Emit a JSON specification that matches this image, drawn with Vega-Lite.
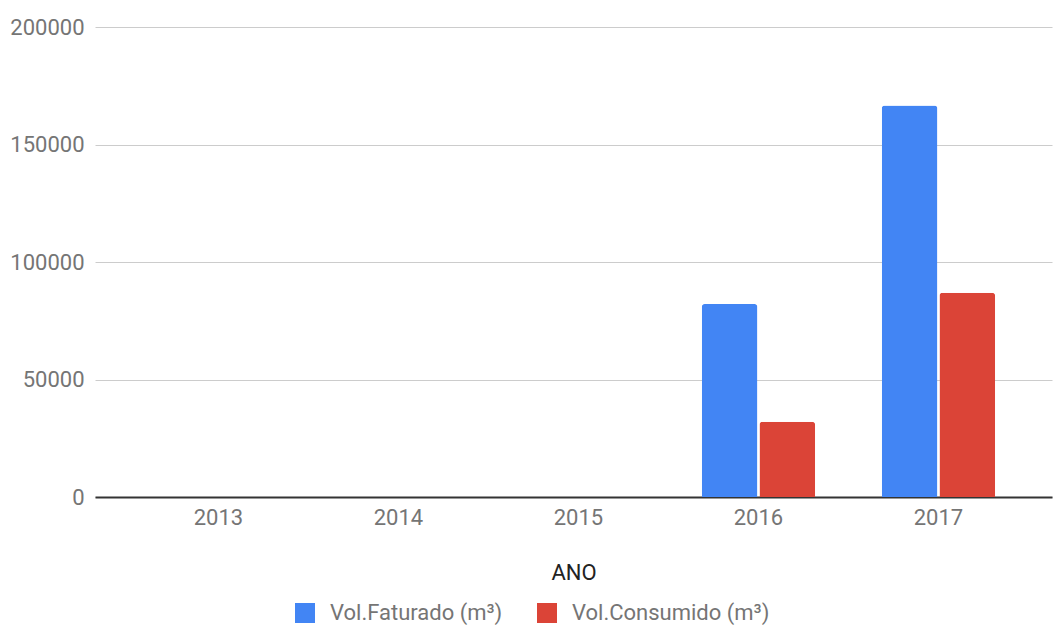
{
  "$schema": "https://vega.github.io/schema/vega-lite/v6.json",
  "autosize": {"type": "none"},
  "padding": {"left": 95, "top": 27, "right": 1, "bottom": 130},
  "width": 957,
  "height": 470,
  "background": "white",
  "config": {
    "font": "Roboto",
    "view": {"stroke": null}
  },
  "data": {
    "values": [
      {"ano": "2013", "serie": "Vol.Faturado (m³)", "valor": 0},
      {"ano": "2013", "serie": "Vol.Consumido (m³)", "valor": 0},
      {"ano": "2014", "serie": "Vol.Faturado (m³)", "valor": 0},
      {"ano": "2014", "serie": "Vol.Consumido (m³)", "valor": 0},
      {"ano": "2015", "serie": "Vol.Faturado (m³)", "valor": 0},
      {"ano": "2015", "serie": "Vol.Consumido (m³)", "valor": 0},
      {"ano": "2016", "serie": "Vol.Faturado (m³)", "valor": 82100},
      {"ano": "2016", "serie": "Vol.Consumido (m³)", "valor": 32000},
      {"ano": "2017", "serie": "Vol.Faturado (m³)", "valor": 166600},
      {"ano": "2017", "serie": "Vol.Consumido (m³)", "valor": 86900}
    ]
  },
  "mark": {"type": "bar", "cornerRadiusTopLeft": 3, "cornerRadiusTopRight": 3},
  "encoding": {
    "x": {
      "field": "ano",
      "type": "nominal",
      "title": "ANO",
      "scale": {"paddingInner": 0.37, "paddingOuter": 0.3435, "align": 0.54},
      "axis": {
        "labelAngle": 0,
        "labelFontSize": 22,
        "labelColor": "#757575",
        "labelPadding": 10,
        "ticks": false,
        "domainColor": "#333333",
        "domainWidth": 2,
        "titleFontSize": 22,
        "titleFontWeight": "normal",
        "titleColor": "#222222",
        "titlePadding": 34
      }
    },
    "xOffset": {
      "field": "serie",
      "type": "nominal",
      "sort": ["Vol.Faturado (m³)", "Vol.Consumido (m³)"],
      "scale": {"paddingInner": 0.035}
    },
    "y": {
      "field": "valor",
      "type": "quantitative",
      "title": null,
      "scale": {"domain": [0, 200000]},
      "axis": {
        "values": [0, 50000, 100000, 150000, 200000],
        "format": "d",
        "labelFontSize": 22,
        "labelColor": "#757575",
        "labelPadding": 11,
        "ticks": false,
        "domain": false,
        "gridColor": "#cccccc",
        "gridWidth": 1
      }
    },
    "color": {
      "field": "serie",
      "type": "nominal",
      "sort": ["Vol.Faturado (m³)", "Vol.Consumido (m³)"],
      "scale": {"domain": ["Vol.Faturado (m³)", "Vol.Consumido (m³)"], "range": ["#4285F4", "#DB4437"]},
      "legend": {
        "title": null,
        "orient": "none",
        "direction": "horizontal",
        "legendX": 199,
        "legendY": 575,
        "symbolType": "square",
        "symbolSize": 400,
        "symbolStrokeWidth": 0,
        "symbolOpacity": 1,
        "labelFontSize": 22,
        "labelLimit": 0,
        "labelColor": "#757575",
        "labelOffset": 14,
        "columnPadding": 33
      }
    }
  }
}
